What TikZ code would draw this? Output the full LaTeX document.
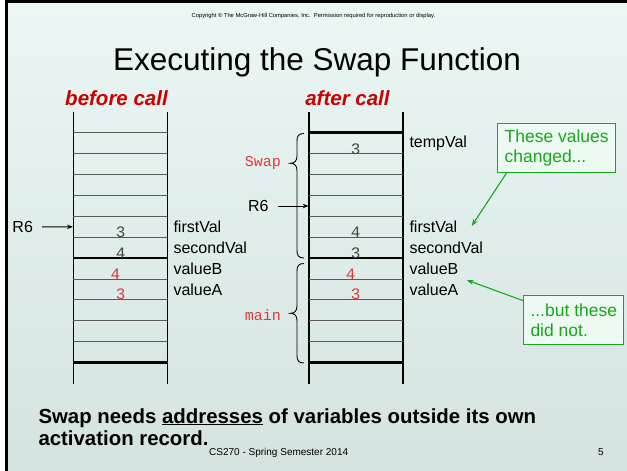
\documentclass[tikz,border=0pt]{standalone}
\usepackage{fontspec}
\setmainfont{Liberation Sans}
\newfontfamily\codefont{Liberation Mono}
\usetikzlibrary{arrows.meta,calc}

\definecolor{slidetop}{RGB}{234,247,244}
\definecolor{slidebot}{RGB}{213,227,224}
\definecolor{headred}{RGB}{204,0,0}
\definecolor{codered}{RGB}{222,58,58}
\definecolor{notegreen}{RGB}{22,168,22}
\definecolor{notefill}{RGB}{237,250,243}
\definecolor{cellgray}{RGB}{90,90,90}
\definecolor{valgray}{RGB}{70,70,70}

\tikzset{
  cell/.style={cellgray, line width=1pt},
  frameline/.style={black, line width=1.2pt},
  boundary/.style={black, line width=2.6pt},
  varlabel/.style={anchor=west, inner sep=0pt, font=\fontsize{16}{16}\selectfont},
  grayval/.style={inner sep=0pt, text=valgray, font=\codefont\fontsize{16}{16}\selectfont},
  redval/.style={inner sep=0pt, text=codered, font=\codefont\fontsize{16}{16}\selectfont},
  framename/.style={anchor=east, inner sep=0pt, text=codered, font=\codefont\fontsize{15}{15}\selectfont},
  pointer/.style={-{Stealth[length=6pt,width=4.5pt]}, line width=1pt, black},
  reglabel/.style={inner sep=0pt, font=\fontsize{16}{16}\selectfont},
  heading/.style={inner sep=0pt, text=headred, font=\bfseries\itshape\fontsize{20.5}{20.5}\selectfont},
  notebox/.style={draw=notegreen, line width=1pt, fill=notefill, text=notegreen, anchor=north west,
    align=left, inner xsep=6pt, inner ysep=4pt, font=\fontsize{17.5}{20}\selectfont},
  noteptr/.style={-{Stealth[length=7pt,width=5pt]}, notegreen, line width=1.1pt},
  brace/.style={black, line width=0.9pt},
}

\begin{document}
\begin{tikzpicture}[x=1pt,y=-1pt]
\useasboundingbox (0,0) rectangle (627,471);
% slide background and frame
\fill[white] (0,0) rectangle (627,471);
\shade[top color=slidetop, bottom color=slidebot] (6,0) rectangle (627,471);
\draw[black, line width=3pt] (6,471) -- (6,1.5) -- (627,1.5);

% header texts
\node[inner sep=0pt, font=\fontsize{5.8}{5.8}\selectfont] (copy) at (313.5,16)
  {Copyright © The McGraw-Hill Companies, Inc.\ \ Permission required for reproduction or display.};
\node[inner sep=0pt, font=\fontsize{31.5}{31.5}\selectfont] (title) at (317,62)
  {Executing the Swap Function};
\node[heading] (before) at (116.5,98) {before call};
\node[heading] (after) at (347.5,98) {after call};

% the two stacks of memory cells
\foreach \xl/\xr in {73.3/167.3, 309/403}{
  \draw[frameline] (\xl,112) -- (\xl,384);
  \draw[frameline] (\xr,112) -- (\xr,384);
  \foreach \k in {1,...,10}{
    \draw[cell] (\xl,132.7+20.9*\k) -- (\xr,132.7+20.9*\k);
  }
  \draw[boundary] (\xl,258.1) -- (\xr,258.1);
  \draw[boundary] (\xl,362.6) -- (\xr,362.6);
}
\draw[cell] (73.3,132.7) -- (167.3,132.7);
\draw[boundary] (309,132.7) -- (403,132.7);

% values before the call
\node[grayval] (b1) at (120.7,232.5) {3};
\node[grayval] (b2) at (120.7,252.8) {4};
\node[redval] (b3) at (115.5,273.8) {4};
\node[redval] (b4) at (120.7,294.2) {3};
\node[varlabel] (bl1) at (173.3,226.7) {firstVal};
\node[varlabel] (bl2) at (173.3,247.3) {secondVal};
\node[varlabel] (bl3) at (173.3,268.7) {valueB};
\node[varlabel] (bl4) at (173.3,290) {valueA};

% values after the call
\node[grayval] (a0) at (355.7,149.3) {3};
\node[grayval] (a1) at (355.7,232.5) {4};
\node[grayval] (a2) at (355.7,252.8) {3};
\node[redval] (a3) at (350.7,273.8) {4};
\node[redval] (a4) at (355.7,294.2) {3};
\node[varlabel] (al0) at (409.3,143.3) {tempVal};
\node[varlabel] (al1) at (409.3,226.7) {firstVal};
\node[varlabel] (al2) at (409.3,247.3) {secondVal};
\node[varlabel] (al3) at (409.3,268.7) {valueB};
\node[varlabel] (al4) at (409.3,290) {valueA};

% stack pointers
\node[reglabel] (r6a) at (22.7,226.7) {R6};
\coordinate (r6atip) at (73,226.8);
\draw[pointer] ($(r6a.east)+(9,0.3)$) -- (r6atip);
\node[reglabel] (r6b) at (258.3,205.5) {R6};
\coordinate (r6btip) at (308.7,206);
\draw[pointer] ($(r6b.east)+(9,0.5)$) -- (r6btip);

% activation record braces
\draw[brace] (304,133.5) .. controls (298.5,133.5) and (297,136) .. (297,141)
  -- (297,156) .. controls (297,161) and (294.5,163.3) .. (290.5,163.3)
  .. controls (294.5,163.3) and (297,165.6) .. (297,170.6)
  -- (297,250.5) .. controls (297,255.5) and (298.5,258) .. (304,258);
\draw[brace] (304,263.5) .. controls (298.5,263.5) and (297,266) .. (297,271)
  -- (297,306) .. controls (297,311) and (294.5,313.3) .. (290.5,313.3)
  .. controls (294.5,313.3) and (297,315.6) .. (297,320.6)
  -- (297,355.5) .. controls (297,360.5) and (298.5,363) .. (304,363);
\node[framename] (swapname) at (281,163.5) {Swap};
\node[framename] (mainname) at (281,315) {main};

% notes
\node[notebox, minimum width=117.7pt, minimum height=49pt] (changed) at (497.3,122.7)
  {These values\\changed...};
\node[notebox, minimum width=100pt, minimum height=49.3pt] (same) at (523.3,295)
  {...but these\\did not.};
\coordinate (changedtip) at (471.7,226);
\coordinate (sametip) at (466.7,280);
\draw[noteptr] ($(changed.south west)+(9.4,0)$) -- (changedtip);
\draw[noteptr] ($(same.north west)+(0,5.7)$) -- (sametip);

% closing remark and footer
\node[anchor=base west, inner sep=0pt, font=\bfseries\fontsize{20.4}{22}\selectfont] (remark1) at (38.3,423)
  {Swap needs \underline{addresses} of variables outside its own};
\node[anchor=base west, inner sep=0pt, font=\bfseries\fontsize{20.4}{22}\selectfont] (remark2) at (38.3,445.5)
  {activation record.};
\node[anchor=base west, inner sep=0pt, font=\fontsize{10}{10}\selectfont] (course) at (209,455)
  {CS270 - Spring Semester 2014};
\node[anchor=base, inner sep=0pt, font=\fontsize{10}{10}\selectfont] (page) at (601,455) {5};
\end{tikzpicture}
\end{document}
